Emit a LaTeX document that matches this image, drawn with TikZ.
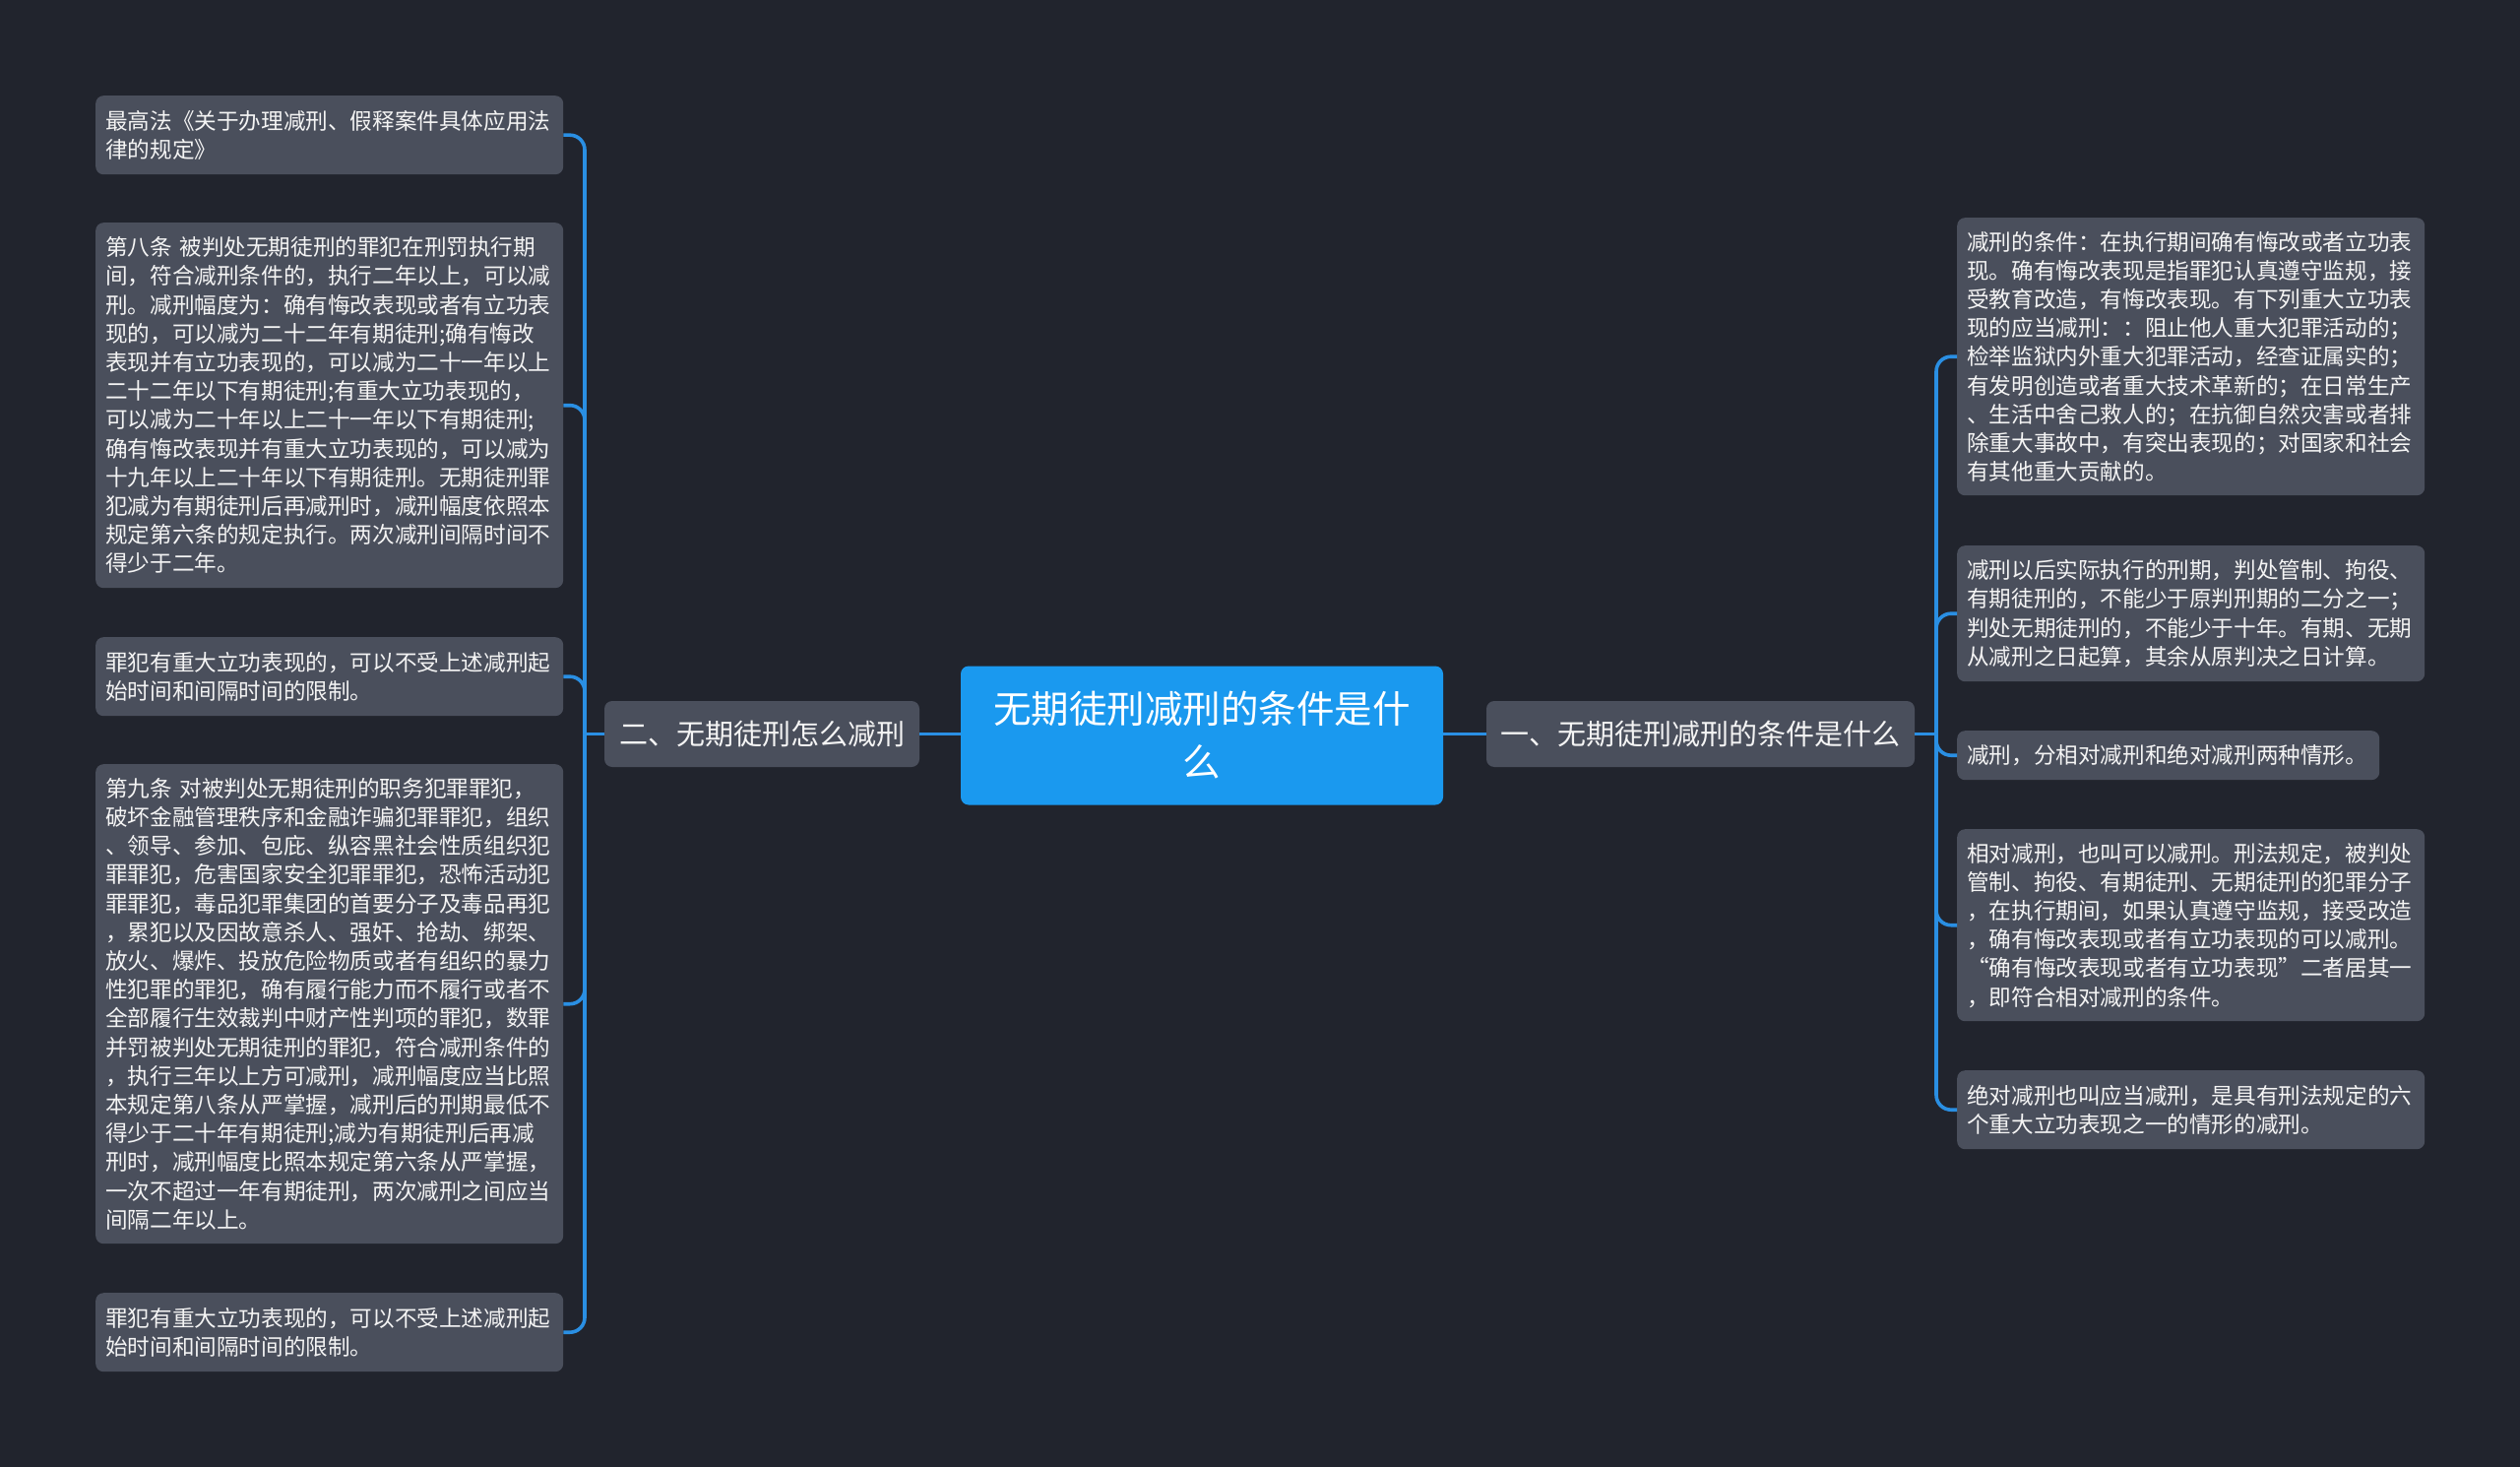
\documentclass[tikz,border=0pt]{standalone}
\usepackage{fontspec}
\setmainfont{Noto Sans CJK SC}
\definecolor{bgc}{HTML}{21242D}
\definecolor{boxc}{HTML}{4A4F5C}
\definecolor{centc}{HTML}{1A99EF}
\definecolor{linec}{HTML}{2A8FE3}
\definecolor{txt}{HTML}{F4F4F4}
\begin{document}
\begin{tikzpicture}[x=1pt,y=-1pt,
  leaf/.style={fill=boxc, rounded corners=8pt, text=txt, align=left, anchor=north west,
    inner xsep=10pt, inner ysep=0pt, text width=455pt,
    font=\fontsize{22.6pt}{29.2pt}\selectfont},
  midbox/.style={fill=boxc, rounded corners=8pt, text=txt, align=center, inner sep=0pt,
    minimum height=67pt, font=\fontsize{29pt}{36pt}\selectfont},
  rootbox/.style={fill=centc, rounded corners=8pt, text=white, align=center, inner sep=0pt,
    minimum width=490pt, minimum height=141pt, text width=460pt,
    font=\fontsize{38.5pt}{54pt}\selectfont},
  conn/.style={draw=linec, line width=3.6pt, rounded corners=15pt}]
\fill[bgc] (0,0) rectangle (2560,1490);
\useasboundingbox (0,0) rectangle (2560,1490);

% root and main branches
\node[rootbox] (root) at (1221,747) {无期徒刑减刑的条件是什\\么};
\node[midbox, minimum width=320pt] (ml) at (774,745.5) {二、无期徒刑怎么减刑};
\node[midbox, minimum width=435pt] (mr) at (1727.5,745.5) {一、无期徒刑减刑的条件是什么};

% left leaves
\node[leaf, minimum height=80pt] (l1) at (97,97) {最高法《关于办理减刑、假释案件具体应用法\\律的规定》};
\node[leaf, minimum height=371pt] (l2) at (97,226) {第八条 被判处无期徒刑的罪犯在刑罚执行期\\间，符合减刑条件的，执行二年以上，可以减\\刑。减刑幅度为：确有悔改表现或者有立功表\\现的，可以减为二十二年有期徒刑;确有悔改\\表现并有立功表现的，可以减为二十一年以上\\二十二年以下有期徒刑;有重大立功表现的，\\可以减为二十年以上二十一年以下有期徒刑;\\确有悔改表现并有重大立功表现的，可以减为\\十九年以上二十年以下有期徒刑。无期徒刑罪\\犯减为有期徒刑后再减刑时，减刑幅度依照本\\规定第六条的规定执行。两次减刑间隔时间不\\得少于二年。};
\node[leaf, minimum height=80pt] (l3) at (97,647) {罪犯有重大立功表现的，可以不受上述减刑起\\始时间和间隔时间的限制。};
\node[leaf, minimum height=487pt] (l4) at (97,776) {第九条 对被判处无期徒刑的职务犯罪罪犯，\\破坏金融管理秩序和金融诈骗犯罪罪犯，组织\\、领导、参加、包庇、纵容黑社会性质组织犯\\罪罪犯，危害国家安全犯罪罪犯，恐怖活动犯\\罪罪犯，毒品犯罪集团的首要分子及毒品再犯\\，累犯以及因故意杀人、强奸、抢劫、绑架、\\放火、爆炸、投放危险物质或者有组织的暴力\\性犯罪的罪犯，确有履行能力而不履行或者不\\全部履行生效裁判中财产性判项的罪犯，数罪\\并罚被判处无期徒刑的罪犯，符合减刑条件的\\，执行三年以上方可减刑，减刑幅度应当比照\\本规定第八条从严掌握，减刑后的刑期最低不\\得少于二十年有期徒刑;减为有期徒刑后再减\\刑时，减刑幅度比照本规定第六条从严掌握，\\一次不超过一年有期徒刑，两次减刑之间应当\\间隔二年以上。};
\node[leaf, minimum height=80pt] (l5) at (97,1313) {罪犯有重大立功表现的，可以不受上述减刑起\\始时间和间隔时间的限制。};

% right leaves
\node[leaf, minimum height=282pt] (r1) at (1988,221) {减刑的条件：在执行期间确有悔改或者立功表\\现。确有悔改表现是指罪犯认真遵守监规，接\\受教育改造，有悔改表现。有下列重大立功表\\现的应当减刑：：阻止他人重大犯罪活动的；\\检举监狱内外重大犯罪活动，经查证属实的；\\有发明创造或者重大技术革新的；在日常生产\\、生活中舍己救人的；在抗御自然灾害或者排\\除重大事故中，有突出表现的；对国家和社会\\有其他重大贡献的。};
\node[leaf, minimum height=138pt] (r2) at (1988,554) {减刑以后实际执行的刑期，判处管制、拘役、\\有期徒刑的，不能少于原判刑期的二分之一；\\判处无期徒刑的，不能少于十年。有期、无期\\从减刑之日起算，其余从原判决之日计算。};
\node[leaf, minimum height=50pt, text width=409pt] (r3) at (1988,742) {减刑，分相对减刑和绝对减刑两种情形。};
\node[leaf, minimum height=195pt] (r4) at (1988,842) {相对减刑，也叫可以减刑。刑法规定，被判处\\管制、拘役、有期徒刑、无期徒刑的犯罪分子\\，在执行期间，如果认真遵守监规，接受改造\\，确有悔改表现或者有立功表现的可以减刑。\\“确有悔改表现或者有立功表现”二者居其一\\，即符合相对减刑的条件。};
\node[leaf, minimum height=80pt] (r5) at (1988,1087) {绝对减刑也叫应当减刑，是具有刑法规定的六\\个重大立功表现之一的情形的减刑。};

% junctions
\coordinate (jl) at (594,745.5);
\coordinate (jr) at (1967,745.5);

% connectors
\draw[conn] (root.west |- ml.east) -- (ml.east);
\draw[conn] (root.east |- mr.west) -- (mr.west);
\draw[conn] (ml.west) -- (jl);
\draw[conn] (mr.east) -- (jr);
\foreach \n in {l1,l2,l3,l4,l5} {\draw[conn] (jl) |- (\n.east);}
\foreach \n in {r1,r2,r3,r4,r5} {\draw[conn] (jr) |- (\n.west);}
\end{tikzpicture}
\end{document}
